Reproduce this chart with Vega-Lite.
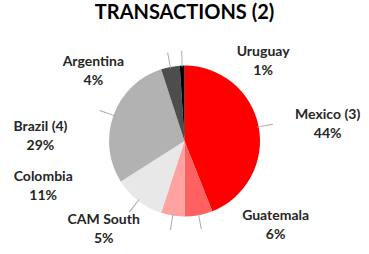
{
  "$schema": "https://vega.github.io/schema/vega-lite/v6.json",
  "width": 369,
  "height": 254,
  "autosize": {"type": "fit", "contains": "padding"},
  "padding": {"top": 3, "left": 0, "right": 0, "bottom": 0},
  "title": {"text": "TRANSACTIONS (2)", "font": "Lato", "fontSize": 20, "fontWeight": "bold", "color": "#000000", "anchor": "middle", "offset": 5},
  "data": {
    "values": [
      {"order": 1, "name": "Mexico (3)", "value": 44},
      {"order": 2, "name": "Guatemala", "value": 6},
      {"order": 3, "name": "CAM South", "value": 5},
      {"order": 4, "name": "Colombia", "value": 11},
      {"order": 5, "name": "Brazil (4)", "value": 29},
      {"order": 6, "name": "Argentina", "value": 4},
      {"order": 7, "name": "Uruguay", "value": 1}
    ]
  },
  "transform": [
    {"window": [{"op": "sum", "field": "value", "as": "cum"}], "sort": [{"field": "order", "order": "ascending"}]},
    {"calculate": "datum.cum - datum.value", "as": "start"},
    {"calculate": "datum.cum - datum.value / 2", "as": "mid"},
    {"calculate": "datum.mid - 0.09", "as": "l1"},
    {"calculate": "datum.mid + 0.09", "as": "l2"},
    {"calculate": "[datum.name, datum.value + '%']", "as": "lbl"}
  ],
  "layer": [
    {
      "mark": {"type": "arc", "outerRadius": 75.5},
      "encoding": {
        "theta": {"field": "start", "type": "quantitative", "stack": null, "scale": {"domain": [0, 100], "range": [0, 6.283185]}},
        "theta2": {"field": "cum"},
        "color": {
          "field": "name", "type": "nominal", "legend": null,
          "scale": {
            "domain": ["Mexico (3)", "Guatemala", "CAM South", "Colombia", "Brazil (4)", "Argentina", "Uruguay"],
            "range": ["#ff0000", "#ff6161", "#ffa2a2", "#e8e8e8", "#b2b2b2", "#4d4d4d", "#000000"]
          }
        }
      }
    },
    {
      "mark": {"type": "arc", "innerRadius": 74, "outerRadius": 90, "color": "#a6a6a6"},
      "encoding": {
        "theta": {"field": "l1", "type": "quantitative", "stack": null},
        "theta2": {"field": "l2"}
      }
    },
    {
      "transform": [{"filter": "datum.name === 'Mexico (3)'"}],
      "mark": {"type": "text", "radius": 75.5, "dx": 69, "dy": -11.5},
      "encoding": {"theta": {"field": "mid", "type": "quantitative", "stack": null}, "text": {"field": "lbl"}}
    },
    {
      "transform": [{"filter": "datum.name === 'Guatemala'"}],
      "mark": {"type": "text", "radius": 75.5, "dx": 77, "dy": 0.5},
      "encoding": {"theta": {"field": "mid", "type": "quantitative", "stack": null}, "text": {"field": "lbl"}}
    },
    {
      "transform": [{"filter": "datum.name === 'CAM South'"}],
      "mark": {"type": "text", "radius": 75.5, "dx": -69, "dy": 4.5},
      "encoding": {"theta": {"field": "mid", "type": "quantitative", "stack": null}, "text": {"field": "lbl"}}
    },
    {
      "transform": [{"filter": "datum.name === 'Colombia'"}],
      "mark": {"type": "text", "radius": 75.5, "dx": -95, "dy": -23.5},
      "encoding": {"theta": {"field": "mid", "type": "quantitative", "stack": null}, "text": {"field": "lbl"}}
    },
    {
      "transform": [{"filter": "datum.name === 'Brazil (4)'"}],
      "mark": {"type": "text", "radius": 75.5, "dx": -73, "dy": 11.5},
      "encoding": {"theta": {"field": "mid", "type": "quantitative", "stack": null}, "text": {"field": "lbl"}}
    },
    {
      "transform": [{"filter": "datum.name === 'Argentina'"}],
      "mark": {"type": "text", "radius": 75.5, "dx": -77, "dy": -4.5},
      "encoding": {"theta": {"field": "mid", "type": "quantitative", "stack": null}, "text": {"field": "lbl"}}
    },
    {
      "transform": [{"filter": "datum.name === 'Uruguay'"}],
      "mark": {"type": "text", "radius": 75.5, "dx": 81, "dy": -13.5},
      "encoding": {"theta": {"field": "mid", "type": "quantitative", "stack": null}, "text": {"field": "lbl"}}
    }
  ],
  "config": {
    "view": {"stroke": null},
    "text": {"font": "Lato", "fontSize": 14, "fontWeight": "bold", "fill": "#262626", "lineHeight": 19, "align": "center", "baseline": "middle"}
  }
}
